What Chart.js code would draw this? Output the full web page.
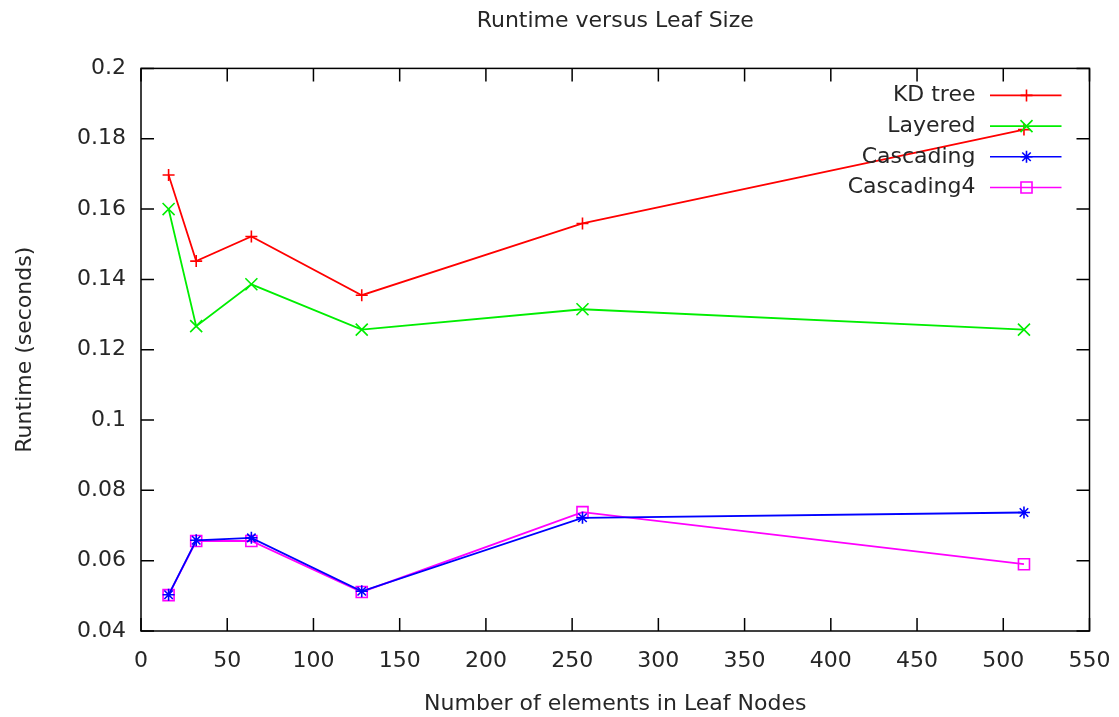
<!DOCTYPE html>
<html>
<head>
<meta charset="utf-8">
<script src="https://cdn.jsdelivr.net/npm/chart.js@4/dist/chart.umd.min.js"></script>
<style>
  html, body { margin: 0; padding: 0; background: #ffffff; }
  #wrap { width: 1119px; height: 717px; position: relative; }
</style>
</head>
<body>
<div id="wrap"><canvas id="c"></canvas></div>
<script>
const leafSizes = [16, 32, 64, 128, 256, 512];
const kdTree = [0.1697, 0.1452, 0.1522, 0.1355, 0.1559, 0.1826];
const layered = [0.1600, 0.1267, 0.1386, 0.1257, 0.1315, 0.1257];
const cascading = [0.0503, 0.0658, 0.0665, 0.0513, 0.0722, 0.0737];
const cascading4 = [0.0502, 0.0656, 0.0656, 0.0511, 0.0738, 0.0590];
const seriesNames = ['KD tree', 'Layered', 'Cascading', 'Cascading4'];
const xTicks = [0, 50, 100, 150, 200, 250, 300, 350, 400, 450, 500, 550];
const yTicks = [0.04, 0.06, 0.08, 0.1, 0.12, 0.14, 0.16, 0.18, 0.2];
const yTickLabels = ['0.04', '0.06', '0.08', '0.1', '0.12', '0.14', '0.16', '0.18', '0.2'];

const FONT = "'DejaVu Sans', sans-serif";
const TEXT = '#262626';

function pts(ys) { return leafSizes.map((x, i) => ({ x: x, y: ys[i] })); }

function mk(label, ys, color, style, radius) {
  return {
    label: label, data: pts(ys), borderColor: color, backgroundColor: 'rgba(0,0,0,0)',
    borderWidth: 1.8, pointStyle: style, pointRadius: radius, pointHoverRadius: radius,
    pointBorderColor: color, pointBackgroundColor: 'rgba(0,0,0,0)', pointBorderWidth: 1.6,
    tension: 0, fill: false
  };
}

const frameAndTicks = {
  id: 'frameAndTicks',
  afterDatasetsDraw(chart) {
    const ctx = chart.ctx, a = chart.chartArea;
    const xs = chart.scales.x, ys = chart.scales.y;
    const L = 13;
    ctx.save();
    ctx.strokeStyle = '#000';
    ctx.lineWidth = 1.5;
    ctx.beginPath();
    xTicks.forEach(v => {
      const px = xs.getPixelForValue(v);
      ctx.moveTo(px, a.bottom); ctx.lineTo(px, a.bottom - L);
      ctx.moveTo(px, a.top); ctx.lineTo(px, a.top + L);
    });
    yTicks.forEach(v => {
      const py = ys.getPixelForValue(v);
      ctx.moveTo(a.left, py); ctx.lineTo(a.left + L, py);
      ctx.moveTo(a.right, py); ctx.lineTo(a.right - L, py);
    });
    ctx.stroke();
    ctx.strokeRect(a.left, a.top, a.right - a.left, a.bottom - a.top);

    // gnuplot-style key
    ctx.font = '22px ' + FONT;
    ctx.textAlign = 'right';
    ctx.textBaseline = 'middle';
    chart.data.datasets.forEach((ds, i) => {
      const y = a.top + 27 + i * 30.7;
      ctx.fillStyle = TEXT;
      ctx.fillText(ds.label, a.right - 114, y);
      ctx.strokeStyle = ds.borderColor;
      ctx.lineWidth = 1.6;
      ctx.beginPath();
      ctx.moveTo(a.right - 99.5, y); ctx.lineTo(a.right - 28, y);
      ctx.stroke();
      if (Chart.helpers && Chart.helpers.drawPoint) {
        ctx.fillStyle = 'rgba(0,0,0,0)';
        Chart.helpers.drawPoint(ctx, { pointStyle: ds.pointStyle, radius: ds.pointRadius, rotation: 0, borderWidth: 1.6 }, a.right - 63, y);
      }
    });
    ctx.restore();
  }
};

new Chart(document.getElementById('c'), {
  type: 'line',
  data: {
    datasets: [
      mk(seriesNames[0], kdTree, '#ff0000', 'cross', 6),
      mk(seriesNames[1], layered, '#00ee00', 'crossRot', 8.5),
      mk(seriesNames[2], cascading, '#0000ff', 'star', 6),
      mk(seriesNames[3], cascading4, '#ff00ff', 'rect', 7.8)
    ]
  },
  options: {
    responsive: true,
    maintainAspectRatio: false,
    animation: false,
    layout: { padding: { left: 0, right: 29.5, top: 0, bottom: 0 } },
    plugins: {
      legend: { display: false },
      tooltip: { enabled: false },
      title: {
        display: true, fullSize: false, text: 'Runtime versus Leaf Size', color: TEXT,
        font: { family: FONT, size: 22, weight: 'normal' },
        padding: { top: 8, bottom: 34 }
      }
    },
    scales: {
      x: {
        type: 'linear', min: 0, max: 550,
        afterBuildTicks(s) { s.ticks = xTicks.map(v => ({ value: v })); },
        afterFit(s) { s.height = 86; s.paddingRight = 0; s.paddingLeft = 0; },
        grid: { display: false, drawTicks: false },
        border: { display: false },
        ticks: { color: TEXT, font: { family: FONT, size: 22 }, padding: 17, maxRotation: 0, autoSkip: false,
                 callback: (v) => String(v) },
        title: { display: true, text: 'Number of elements in Leaf Nodes', color: TEXT,
                 font: { family: FONT, size: 22 }, padding: { top: 0, bottom: 0 } }
      },
      y: {
        type: 'linear', min: 0.04, max: 0.2,
        afterBuildTicks(s) { s.ticks = yTicks.map(v => ({ value: v })); },
        afterFit(s) { s.width = 141; s.paddingTop = 0; s.paddingBottom = 0; },
        grid: { display: false, drawTicks: false },
        border: { display: false },
        ticks: { color: TEXT, font: { family: FONT, size: 22 }, padding: 15, autoSkip: false,
                 callback: (v, i) => yTickLabels[i] },
        title: { display: true, text: 'Runtime (seconds)', color: TEXT,
                 font: { family: FONT, size: 22 }, padding: { top: 12, bottom: 0 } }
      }
    }
  },
  plugins: [frameAndTicks]
});
</script>
</body>
</html>
